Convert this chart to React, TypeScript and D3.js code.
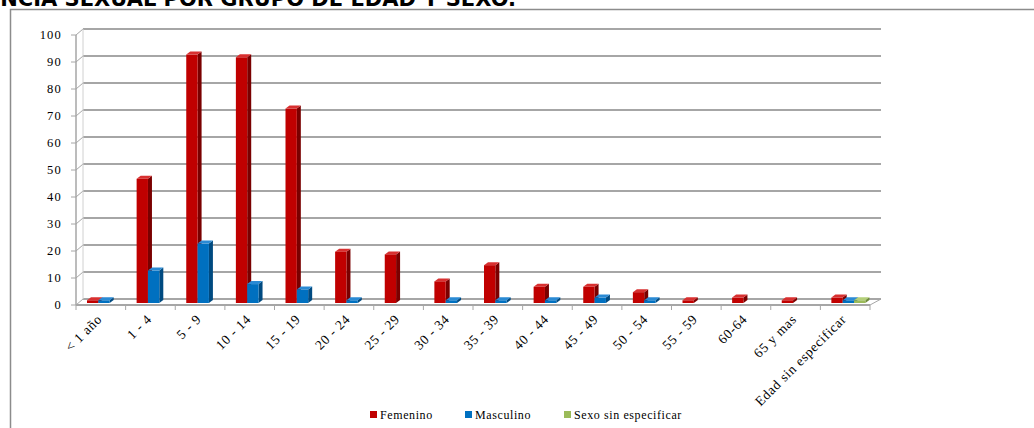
import React from "react";
import * as d3 from "d3";

const categories = ["< 1 año", "1 - 4", "5 - 9", "10 - 14", "15 - 19", "20 - 24", "25 - 29", "30 - 34", "35 - 39", "40 - 44", "45 - 49", "50 - 54", "55 - 59", "60-64", "65 y mas", "Edad sin especificar"];
const seriesNames = ["Femenino", "Masculino", "Sexo sin especificar"];
const femenino = [1, 46, 92, 91, 72, 19, 18, 8, 14, 6, 6, 4, 1, 2, 1, 2];
const masculino = [1, 12, 22, 7, 5, 1, 0, 1, 1, 1, 2, 1, 0, 0, 0, 1];
const sinSexo = [0, 0, 0, 0, 0, 0, 0, 0, 0, 0, 0, 0, 0, 0, 0, 1];
const yTicks = [0, 10, 20, 30, 40, 50, 60, 70, 80, 90, 100];
const title = "VIOLENCIA SEXUAL POR GRUPO DE EDAD Y SEXO.";

const colors = [
  { front: "#C00000", side: "#7A0000", top: "#D83030" },
  { front: "#0070C0", side: "#004A80", top: "#2A8AD4" },
  { front: "#9BBB59", side: "#6E8A3A", top: "#B3CF78" },
];

export default function App() {
  const W = 1034, H = 428;
  const frontX0 = 76, frontX1 = 870;
  const ddx = 7;
  const yFront = d3.scaleLinear().domain([0, 100]).range([305, 35]);
  const yBack = d3.scaleLinear().domain([0, 100]).range([299, 29]);
  const yBar = d3.scaleLinear().domain([0, 100]).range([303, 33]);
  const x = d3.scaleBand().domain(categories).range([frontX0, frontX1]);
  const sub = d3.scaleBand().domain(seriesNames).range([11, 11 + 34]);
  const data = [femenino, masculino, sinSexo];
  const bdx = 4, bdy = -3;
  const grid = "#A6A6A6";
  const serif = "'Liberation Serif', 'Times New Roman', serif";

  const bars: React.ReactNode[] = [];
  categories.forEach((c, i) => {
    seriesNames.forEach((s, si) => {
      const v = data[si][i];
      if (!v) return;
      const x0 = (x(c) as number) + (sub(s) as number);
      const w = sub.bandwidth();
      const yt = yBar(v), yb = yBar(0);
      const col = colors[si];
      bars.push(
        <g key={c + s}>
          <polygon points={`${x0 + w},${yb} ${x0 + w + bdx},${yb + bdy} ${x0 + w + bdx},${yt + bdy} ${x0 + w},${yt}`} fill={col.side} />
          <polygon points={`${x0},${yt} ${x0 + bdx},${yt + bdy} ${x0 + w + bdx},${yt + bdy} ${x0 + w},${yt}`} fill={col.top} />
          <rect x={x0} y={yt} width={w} height={yb - yt} fill={col.front} />
        </g>
      );
    });
  });

  const legendItems = [
    { name: seriesNames[0], x: 370 },
    { name: seriesNames[1], x: 465 },
    { name: seriesNames[2], x: 564 },
  ];

  return (
    <svg width={W} height={H} style={{ position: "absolute", left: 0, top: 0, background: "#fff" }}>
      <text x={516} y={6} textAnchor="end" fontFamily="'DejaVu Sans', Verdana, sans-serif" fontWeight="bold" fontSize={21}>{title}</text>
      <rect x={10.5} y={9.5} width={1200} height={600} fill="none" stroke="#8C8C8C" strokeWidth={1.5} />
      {yTicks.map((t) => (
        <g key={"g" + t}>
          <line x1={frontX0 + ddx} x2={881} y1={yBack(t)} y2={yBack(t)} stroke={grid} strokeWidth={2} />
          <line x1={frontX0} y1={yFront(t)} x2={frontX0 + ddx} y2={yBack(t)} stroke={grid} strokeWidth={1} />
          <line x1={frontX0 - 5} x2={frontX0} y1={yFront(t)} y2={yFront(t)} stroke={grid} strokeWidth={1} />
          <text x={62} y={yFront(t) + 4} textAnchor="end" fontFamily={serif} fontSize={12.5} letterSpacing={1.2} fill="#000">{t}</text>
        </g>
      ))}
      <line x1={frontX0} x2={frontX0} y1={yFront(0)} y2={yFront(100)} stroke={grid} strokeWidth={1.5} />
      <line x1={frontX0 + ddx} x2={frontX0 + ddx} y1={yBack(0)} y2={yBack(100)} stroke="#D0D0D0" strokeWidth={1} />
      <line x1={frontX0} x2={frontX1} y1={yFront(0)} y2={yFront(0)} stroke={grid} strokeWidth={2} />
      <line x1={frontX1} y1={yFront(0)} x2={881} y2={yBack(0)} stroke={grid} strokeWidth={1} />
      {bars}
      {d3.range(categories.length + 1).map((i) => {
        const xx = frontX0 + i * x.bandwidth();
        return <line key={"t" + i} x1={xx} x2={xx} y1={yFront(0)} y2={yFront(0) + 5} stroke={grid} strokeWidth={1} />;
      })}
      {categories.map((c) => {
        const cx = (x(c) as number) + x.bandwidth() / 2 + 2;
        return (
          <text key={"l" + c} transform={`translate(${cx},320) rotate(-45)`} textAnchor="end" fontFamily={serif} fontSize={13.5} letterSpacing={0.7} fill="#000">{c}</text>
        );
      })}
      {legendItems.map((l, i) => (
        <g key={"lg" + l.name}>
          <rect x={l.x} y={411} width={7} height={7} fill={colors[i].front} />
          <text x={l.x + 10} y={419} fontFamily={serif} fontSize={12} letterSpacing={0.6} fill="#000">{l.name}</text>
        </g>
      ))}
    </svg>
  );
}
